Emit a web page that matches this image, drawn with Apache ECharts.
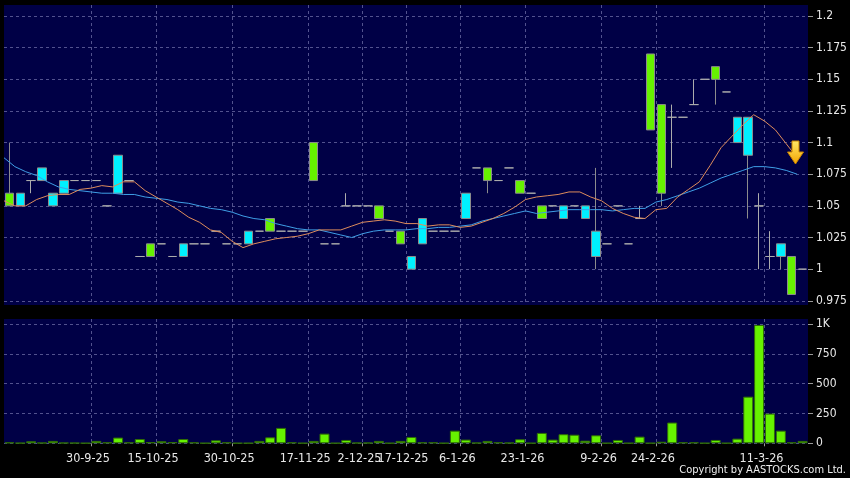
<!DOCTYPE html>
<html><head><meta charset="utf-8">
<script src="https://cdn.jsdelivr.net/npm/echarts@6/dist/echarts.min.js"></script>
<style>html,body{margin:0;padding:0;background:#000;}#c{width:850px;height:478px;}</style>
</head><body><div id="c"></div>
<script>
// OHLC per trading slot (green = up, cyan = down, dash = unchanged)
const opens  = [1.05,1.06,1.07,1.08,1.06,1.07,1.07,1.07,1.07,1.05, 1.09,1.07,1.01,1.01,1.02,1.01,1.02,1.02,1.02,1.03, 1.02,1.02,1.03,1.03,1.03,1.03,1.03,1.03,1.07,1.02, 1.02,1.05,1.05,1.05,1.04,1.03,1.02,1.01,1.04,1.03, 1.03,1.03,1.06,1.08,1.07,1.07,1.08,1.06,1.06,1.04, 1.05,1.05,1.05,1.05,1.03,1.02,1.05,1.02,1.04,1.11, 1.06,1.12,1.12,1.13,1.15,1.15,1.14,1.12,1.12,1.05, 1.01,1.02,0.98,1.00];
const closes = [1.06,1.05,1.07,1.07,1.05,1.06,1.07,1.07,1.07,1.05, 1.06,1.07,1.01,1.02,1.02,1.01,1.01,1.02,1.02,1.03, 1.02,1.02,1.02,1.03,1.04,1.03,1.03,1.03,1.10,1.02, 1.02,1.05,1.05,1.05,1.05,1.03,1.03,1.00,1.02,1.03, 1.03,1.03,1.04,1.08,1.08,1.07,1.08,1.07,1.06,1.05, 1.05,1.04,1.05,1.04,1.01,1.02,1.05,1.02,1.04,1.17, 1.13,1.12,1.12,1.13,1.15,1.16,1.14,1.10,1.09,1.05, 1.01,1.01,1.01,1.00];
const lows   = [1.05,1.05,1.06,1.07,1.05,1.06,1.07,1.07,1.07,1.05, 1.06,1.07,1.01,1.01,1.02,1.01,1.01,1.02,1.02,1.03, 1.02,1.02,1.02,1.03,1.03,1.03,1.03,1.03,1.07,1.02, 1.02,1.05,1.05,1.05,1.04,1.03,1.02,1.00,1.02,1.03, 1.03,1.03,1.04,1.08,1.06,1.07,1.08,1.06,1.06,1.04, 1.05,1.04,1.05,1.04,1.00,1.02,1.05,1.02,1.04,1.11, 1.05,1.08,1.12,1.13,1.15,1.13,1.14,1.10,1.04,1.00, 1.00,1.00,0.98,1.00];
const highs  = [1.10,1.06,1.07,1.08,1.06,1.07,1.07,1.07,1.07,1.05, 1.09,1.07,1.01,1.02,1.02,1.01,1.02,1.02,1.02,1.03, 1.02,1.02,1.03,1.03,1.04,1.03,1.03,1.03,1.10,1.02, 1.02,1.06,1.05,1.05,1.05,1.03,1.03,1.01,1.04,1.03, 1.03,1.03,1.06,1.08,1.08,1.07,1.08,1.07,1.06,1.05, 1.05,1.05,1.05,1.05,1.08,1.02,1.05,1.02,1.05,1.17, 1.13,1.13,1.12,1.15,1.15,1.16,1.14,1.12,1.12,1.06, 1.03,1.02,1.01,1.00];
const volumes = [8,3,17,5,20,5,4,2,20,8, 48,8,36,10,17,10,36,8,2,25, 8,2,2,20,50,129,8,2,20,81, 2,28,5,5,20,2,20,53,8,8, 2,106,31,5,20,8,5,34,2,87, 31,76,72,22,67,2,28,2,56,2, 13,174,8,8,2,28,2,39,391,992, 249,106,8,20];
// moving averages, one value per slot boundary
const maShort = [1.054,1.050,1.050,1.055,1.058,1.059,1.059,1.063,1.064,1.066, 1.065,1.069,1.069,1.062,1.057,1.052,1.047,1.041,1.037,1.031, 1.029,1.022,1.017,1.020,1.022,1.024,1.025,1.026,1.028,1.031, 1.031,1.031,1.034,1.037,1.038,1.039,1.038,1.036,1.036,1.034, 1.035,1.035,1.033,1.034,1.037,1.040,1.044,1.049,1.055,1.057, 1.058,1.059,1.061,1.061,1.057,1.054,1.048,1.044,1.041,1.040, 1.047,1.048,1.057,1.063,1.069,1.082,1.096,1.105,1.114,1.122, 1.117,1.110,1.099,1.088];
const maLong  = [1.088,1.081,1.077,1.074,1.069,1.065,1.063,1.062,1.061,1.060, 1.060,1.059,1.059,1.057,1.056,1.055,1.053,1.052,1.050,1.048, 1.047,1.045,1.042,1.040,1.039,1.036,1.034,1.032,1.031,1.031, 1.029,1.027,1.025,1.028,1.030,1.031,1.031,1.031,1.032,1.032, 1.033,1.033,1.034,1.035,1.038,1.040,1.042,1.044,1.046,1.044, 1.045,1.046,1.047,1.047,1.047,1.047,1.046,1.047,1.048,1.048, 1.053,1.055,1.058,1.061,1.064,1.068,1.072,1.075,1.078,1.081, 1.081,1.080,1.078,1.075];
const tickLabels = ['30-9-25','15-10-25','30-10-25','17-11-25','2-12-25','17-12-25','6-1-26','23-1-26','9-2-26','24-2-26','11-3-26'];
const tickSlots  = [8,14,21,28,33,37,42,48,55,60,70];

const n = opens.length;
const dayCats = opens.map((_, i) => 'd' + i);
const slotCats = Array.from({length: n + 1}, (_, k) => {
  const j = tickSlots.indexOf(k); return j >= 0 ? tickLabels[j] : ' ' + k;
});
const isTick = (i) => tickSlots.indexOf(i) >= 0;
const candles = opens.map((o, i) => [o, closes[i], lows[i], highs[i]]);

const FONT = "'DejaVu Sans Condensed','DejaVu Sans',sans-serif";
const NAVY = '#000046';
const GRIDLINE = {show: true, lineStyle: {color: '#52528e', type: [3, 3], width: 1}};
const L = 4, R = 42;

const chart = echarts.init(document.getElementById('c'), null, {renderer: 'canvas'});
chart.setOption({
  animation: false,
  backgroundColor: '#000',
  grid: [
    {left: L, right: R, top: 5, height: 300, show: true, backgroundColor: NAVY, borderWidth: 0},
    {left: L, right: R, top: 16, height: 284.8},
    {left: L, right: R, top: 319, height: 124.3, show: true, backgroundColor: NAVY, borderWidth: 0},
    {left: L, right: R, top: 324, height: 119.3}
  ],
  xAxis: [
    {type: 'category', gridIndex: 0, data: slotCats, boundaryGap: false,
     axisLine: {show: false}, axisTick: {show: false}, axisLabel: {show: false},
     splitLine: Object.assign({interval: (i) => isTick(i)}, GRIDLINE)},
    {type: 'category', gridIndex: 1, data: dayCats, boundaryGap: true, show: false},
    {type: 'category', gridIndex: 1, data: slotCats, boundaryGap: false, show: false},
    {type: 'category', gridIndex: 2, data: slotCats, boundaryGap: false,
     axisLine: {show: false},
     axisTick: {show: true, interval: (i) => isTick(i), length: 3, lineStyle: {color: '#9a9a9a'}},
     axisLabel: {show: true, interval: (i) => isTick(i), color: '#e8e8e8', fontSize: 12.5, fontFamily: FONT, margin: 9,
       padding: [0, 6, 0, 0],
       formatter: (v) => v.trim().indexOf('-') > 0 ? v : ''},
     splitLine: Object.assign({interval: (i) => isTick(i)}, GRIDLINE)},
    {type: 'category', gridIndex: 3, data: dayCats, boundaryGap: true, show: false}
  ],
  yAxis: [
    {type: 'value', gridIndex: 0, min: 0, max: 1, show: false},
    {type: 'value', gridIndex: 1, position: 'right', min: 0.975, max: 1.2, interval: 0.025,
     axisLine: {show: false},
     axisTick: {show: true, length: 5, lineStyle: {color: '#9a9a9a'}},
     axisLabel: {color: '#e8e8e8', fontSize: 12, fontFamily: FONT, margin: 8,
       formatter: (v) => String(+v.toFixed(3))},
     splitLine: GRIDLINE},
    {type: 'value', gridIndex: 2, min: 0, max: 1, show: false},
    {type: 'value', gridIndex: 3, position: 'right', min: 0, max: 1000, interval: 250,
     axisLine: {show: false},
     axisTick: {show: true, length: 5, lineStyle: {color: '#9a9a9a'}},
     axisLabel: {color: '#e8e8e8', fontSize: 12, fontFamily: FONT, margin: 8,
       formatter: (v) => v >= 1000 ? '1K' : String(v)},
     splitLine: GRIDLINE}
  ],
  series: [
    {type: 'candlestick', xAxisIndex: 1, yAxisIndex: 1, data: candles, barWidth: 9, z: 2,
     itemStyle: {color: '#66f200', color0: '#00f0ff', borderColor: '#8c8c8c', borderColor0: '#8c8c8c',
       borderColorDoji: '#acacac', borderWidth: 1}},
    {type: 'line', xAxisIndex: 2, yAxisIndex: 1, data: maLong, showSymbol: false, z: 3,
     lineStyle: {color: '#3f9fe6', width: 1}},
    {type: 'line', xAxisIndex: 2, yAxisIndex: 1, data: maShort, showSymbol: false, z: 4,
     lineStyle: {color: '#de8c5c', width: 1}},
    {type: 'bar', xAxisIndex: 4, yAxisIndex: 3, data: volumes, barWidth: 10, z: 2,
     itemStyle: {color: '#66f200', borderColor: '#2f6d05', borderWidth: 1}}
  ],
  graphic: [
    {type: 'polygon', z: 100,
     shape: {points: [[792, 141], [799, 141], [799, 152], [803.5, 152], [795.5, 164], [787.5, 152], [792, 152]]},
     style: {fill: new echarts.graphic.LinearGradient(0, 0, 0, 1, [{offset: 0, color: '#ffe868'}, {offset: 1, color: '#f2a400'}]),
       stroke: '#c98400', lineWidth: 1}},
    {type: 'text', z: 100,
     style: {text: 'Copyright by AASTOCKS.com Ltd.', x: 846, y: 470, textAlign: 'right', textVerticalAlign: 'middle',
       fill: '#f0f0f0', font: '11px ' + FONT}}
  ]
});
</script></body></html>
